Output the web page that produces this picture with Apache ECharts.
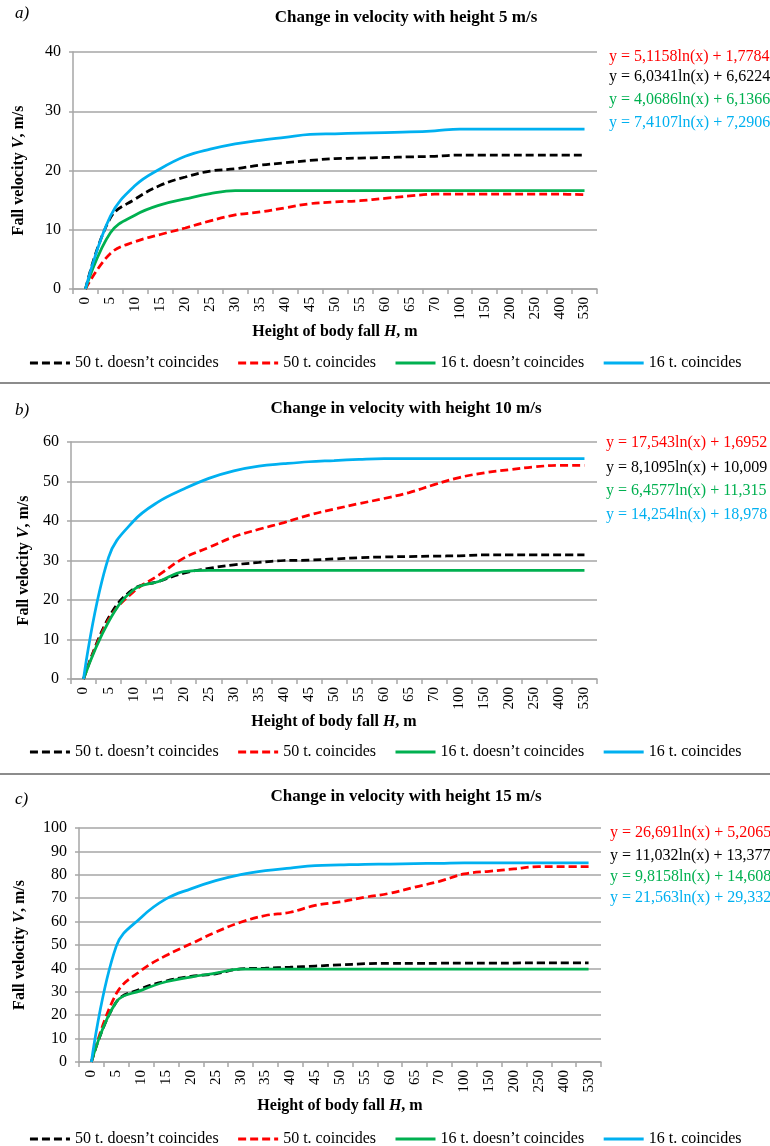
<!DOCTYPE html>
<html>
<head>
<meta charset="utf-8">
<title>Change in velocity with height</title>
<script src="https://cdn.jsdelivr.net/npm/echarts@6/dist/echarts.min.js"></script>
<style>
    html, body { margin: 0; padding: 0; background: #fff; }
    #chart { width: 770px; height: 1146px; }
</style>
</head>
<body>
<div id="chart"></div>
<script>
// heights of body fall H, m (category axis)
const heights = ['0', '5', '10', '15', '20', '25', '30', '35', '40', '45', '50', '55', '60', '65', '70', '100', '150', '200', '250', '400', '530'];
const seriesNames = ['50 t. doesn’t coincides', '50 t. coincides', '16 t. doesn’t coincides', '16 t. coincides'];

// a) 5 m/s
const a50No = [0, 12.0, 15.2, 17.5, 18.9, 19.9, 20.3, 20.9, 21.3, 21.7, 22.0, 22.1, 22.2, 22.3, 22.4, 22.6, 22.6, 22.6, 22.6, 22.6, 22.6];
const a50Yes = [0, 6.0, 8.0, 9.2, 10.3, 11.5, 12.5, 13.0, 13.7, 14.4, 14.7, 14.9, 15.3, 15.7, 16.0, 16.0, 16.0, 16.0, 16.0, 16.0, 15.9];
const a16No = [0, 9.5, 12.5, 14.2, 15.2, 16.1, 16.6, 16.6, 16.6, 16.6, 16.6, 16.6, 16.6, 16.6, 16.6, 16.6, 16.6, 16.6, 16.6, 16.6, 16.6];
const a16Yes = [0, 12.3, 17.5, 20.3, 22.4, 23.6, 24.5, 25.1, 25.6, 26.1, 26.2, 26.3, 26.4, 26.5, 26.7, 27.0, 27.0, 27.0, 27.0, 27.0, 27.0];
const eqA = ['y = 5,1158ln(x) + 1,7784', 'y = 6,0341ln(x) + 6,6224', 'y = 4,0686ln(x) + 6,1366', 'y = 7,4107ln(x) + 7,2906'];

// b) 10 m/s
const b50No = [0, 15.5, 22.8, 24.7, 26.8, 28.0, 28.9, 29.5, 30.0, 30.1, 30.4, 30.7, 30.9, 31.0, 31.1, 31.2, 31.4, 31.4, 31.4, 31.4, 31.4];
const b50Yes = [0, 15.0, 22.1, 26.3, 30.6, 33.3, 36.0, 37.9, 39.6, 41.5, 43.0, 44.4, 45.7, 47.2, 49.2, 51.0, 52.2, 53.0, 53.7, 54.1, 54.1];
const b16No = [0, 14.5, 22.6, 24.7, 27.2, 27.5, 27.5, 27.5, 27.5, 27.5, 27.5, 27.5, 27.5, 27.5, 27.5, 27.5, 27.5, 27.5, 27.5, 27.5, 27.5];
const b16Yes = [0, 30.8, 40.0, 44.9, 48.1, 50.8, 52.7, 53.9, 54.5, 55.0, 55.3, 55.6, 55.8, 55.8, 55.8, 55.8, 55.8, 55.8, 55.8, 55.8, 55.8];
const eqB = ['y = 17,543ln(x) + 1,6952', 'y = 8,1095ln(x) + 10,009', 'y = 6,4577ln(x) + 11,315', 'y = 14,254ln(x) + 18,978'];

// c) 15 m/s
const c50No = [0, 25.6, 31.3, 34.6, 36.6, 37.7, 39.8, 40.1, 40.5, 41.0, 41.5, 42.0, 42.2, 42.2, 42.2, 42.3, 42.3, 42.3, 42.4, 42.4, 42.4];
const c50Yes = [0, 29.2, 39.1, 45.5, 50.5, 55.5, 59.7, 62.6, 64.0, 66.9, 68.4, 70.4, 72.1, 74.7, 77.2, 80.4, 81.5, 82.5, 83.5, 83.5, 83.5];
const c16No = [0, 25.6, 30.6, 34.3, 36.3, 38.0, 39.7, 39.7, 39.7, 39.7, 39.7, 39.7, 39.7, 39.7, 39.7, 39.7, 39.7, 39.7, 39.7, 39.7, 39.7];
const c16Yes = [0, 49.5, 61.8, 69.7, 74.0, 77.5, 80.1, 81.8, 82.9, 83.9, 84.2, 84.5, 84.6, 84.8, 84.9, 85.1, 85.1, 85.1, 85.1, 85.1, 85.1];
const eqC = ['y = 26,691ln(x) + 5,2065', 'y = 11,032ln(x) + 13,377', 'y = 9,8158ln(x) + 14,608', 'y = 21,563ln(x) + 29,332'];

const FONT = '"Liberation Serif", "Times New Roman", serif';
const lineColors = ['#000000', '#ff0000', '#00b050', '#00b0f0'];
const eqColors = ['#ff0000', '#000000', '#00b050', '#00b0f0'];

// layout of the three panels
const panels = [
    { tag: 'a)', title: 'Change in velocity with height 5 m/s', max: 40, data: [a50No, a50Yes, a16No, a16Yes], eq: eqA,
      grid: { left: 73, top: 52, width: 524, height: 237 }, tagY: 14, titleY: 18, eqX: 609, eqY: [57, 77, 100, 123],
      yGap: 46, xGap: 31, legendTop: 350 },
    { tag: 'b)', title: 'Change in velocity with height 10 m/s', max: 60, data: [b50No, b50Yes, b16No, b16Yes], eq: eqB,
      grid: { left: 71, top: 442, width: 526, height: 237 }, tagY: 411, titleY: 409, eqX: 606, eqY: [443, 468, 491, 515],
      yGap: 39, xGap: 31, legendTop: 739 },
    { tag: 'c)', title: 'Change in velocity with height 15 m/s', max: 100, data: [c50No, c50Yes, c16No, c16Yes], eq: eqC,
      grid: { left: 79, top: 828, width: 522, height: 234 }, tagY: 800, titleY: 797, eqX: 610, eqY: [833, 856, 877, 898],
      yGap: 51, xGap: 36, legendTop: 1126 },
];

let chartShell = document.getElementById('chart');
let myChart = echarts.init(chartShell);

let grids = [], xAxes = [], yAxes = [], series = [], legends = [], graphics = [];

panels.forEach(function (p, i) {
    grids.push(p.grid);

    xAxes.push({
        gridIndex: i,
        type: 'category',
        data: heights,
        boundaryGap: true,
        name: 'Height of body fall {i|H}, m',
        nameLocation: 'middle',
        nameGap: p.xGap,
        nameTextStyle: {
            fontFamily: FONT, fontSize: 16, fontWeight: 'bold', color: '#000',
            rich: { i: { fontFamily: FONT, fontSize: 16, fontWeight: 'bold', fontStyle: 'italic', color: '#000' } },
        },
        axisLine: { lineStyle: { color: '#a6a6a6', width: 1.5 } },
        axisTick: { show: true, length: 5, lineStyle: { color: '#a6a6a6', width: 1.5 } },
        axisLabel: { rotate: 90, margin: 8, interval: 0, fontFamily: FONT, fontSize: 15, color: '#000' },
        splitLine: { show: false },
    });

    yAxes.push({
        gridIndex: i,
        type: 'value',
        min: 0,
        max: p.max,
        interval: 10,
        name: 'Fall velocity {i|V}, m/s',
        nameLocation: 'middle',
        nameGap: p.yGap,
        nameTextStyle: {
            fontFamily: FONT, fontSize: 16, fontWeight: 'bold', color: '#000',
            rich: { i: { fontFamily: FONT, fontSize: 16, fontWeight: 'bold', fontStyle: 'italic', color: '#000' } },
        },
        axisLine: { show: true, lineStyle: { color: '#a6a6a6', width: 1.5 } },
        axisTick: { show: true, length: 4, lineStyle: { color: '#a6a6a6', width: 1.5 } },
        axisLabel: { margin: 12, fontFamily: FONT, fontSize: 16, color: '#000' },
        splitLine: { lineStyle: { color: '#a6a6a6', width: 1.5 } },
    });

    p.data.forEach(function (values, k) {
        series.push({
            name: seriesNames[k],
            type: 'line',
            xAxisIndex: i,
            yAxisIndex: i,
            data: values,
            smooth: 0.4,
            symbol: 'none',
            lineStyle: { color: lineColors[k], width: 2.75, type: k < 2 ? [8, 4] : 'solid' },
            itemStyle: { color: lineColors[k] },
        });
    });

    legends.push({
        data: seriesNames,
        top: p.legendTop,
        left: 'center',
        itemWidth: 40,
        itemHeight: 14,
        itemGap: 18,
        // only the line sample, no marker dot
        itemStyle: { opacity: 0 },
        lineStyle: { width: 3 },
        textStyle: { fontFamily: FONT, fontSize: 16, color: '#000' },
    });

    // panel letter and title
    graphics.push({
        type: 'text', x: 15, y: p.tagY,
        style: { text: p.tag, font: 'italic 17px ' + FONT, fill: '#000', verticalAlign: 'middle' },
    });
    graphics.push({
        type: 'text', x: 406, y: p.titleY,
        style: { text: p.title, font: 'bold 17px ' + FONT, fill: '#000', align: 'center', verticalAlign: 'middle' },
    });

    // trend line equations
    p.eq.forEach(function (txt, k) {
        graphics.push({
            type: 'text', x: p.eqX, y: p.eqY[k],
            style: { text: txt, font: '16px ' + FONT, fill: eqColors[k], verticalAlign: 'middle' },
        });
    });
});

// separators between panels
[383, 774].forEach(function (y) {
    graphics.push({
        type: 'line',
        shape: { x1: 0, y1: y, x2: 770, y2: y },
        style: { stroke: '#8c8c8c', lineWidth: 2 },
    });
});

let option = {
    backgroundColor: '#ffffff',
    animation: false,
    grid: grids,
    xAxis: xAxes,
    yAxis: yAxes,
    legend: legends,
    series: series,
    graphic: graphics,
};

myChart.setOption(option);
window.addEventListener('resize', function () {
    myChart.resize();
});
</script>
</body>
</html>
